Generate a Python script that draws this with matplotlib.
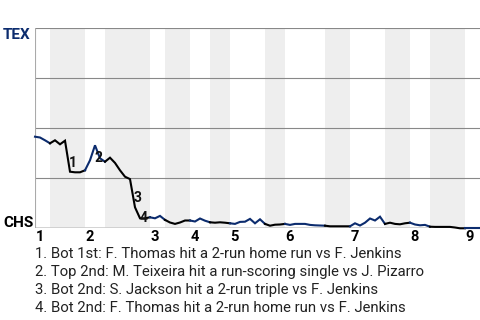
import matplotlib
matplotlib.use("Agg")
import matplotlib.pyplot as plt

plt.rcParams['font.family'] = ['Roboto', 'DejaVu Sans']

# Texas win probability after each plate appearance (1 = TEX, 0 = CHS)
wp_tex = [0.458, 0.454, 0.44, 0.425, 0.44, 0.42, 0.438, 0.283, 0.28, 0.28,
          0.29, 0.34, 0.415, 0.35, 0.333, 0.353, 0.327, 0.29, 0.258, 0.246,
          0.105, 0.05, 0.05, 0.055, 0.05, 0.062, 0.042, 0.029, 0.022, 0.029,
          0.039, 0.039, 0.034, 0.049, 0.038, 0.03, 0.028, 0.03, 0.028, 0.025,
          0.022, 0.032, 0.033, 0.047, 0.025, 0.045, 0.022, 0.013, 0.018, 0.019,
          0.022, 0.017, 0.022, 0.022, 0.022, 0.017, 0.015, 0.014, 0.013, 0.01,
          0.01, 0.01, 0.01, 0.01, 0.025, 0.014, 0.028, 0.049, 0.039, 0.058,
          0.022, 0.028, 0.022, 0.02, 0.025, 0.028, 0.019, 0.015, 0.017, 0.008,
          0.007, 0.007, 0.007, 0.007, 0.004, 0.0, 0.0, 0.0, 0.0, 0.0]

# plate appearance index where each half inning starts
inning_starts = [0, 10, 23, 31, 39, 50, 63, 75, 86]
bottom_starts = [3, 14, 26, 35, 46, 58, 70, 79]
inning_labels = ['1', '2', '3', '4', '5', '6', '7', '8', '9']

# key plays
play_num = ['1', '2', '3', '4']
play_x = [7.5, 12.7, 20.5, 21.7]
play_y = [0.328, 0.35, 0.153, 0.053]
play_text = [
    '1. Bot 1st: F. Thomas hit a 2-run home run vs F. Jenkins',
    '2. Top 2nd: M. Teixeira hit a run-scoring single vs J. Pizarro',
    '3. Bot 2nd: S. Jackson hit a 2-run triple vs F. Jenkins',
    '4. Bot 2nd: F. Thomas hit a 2-run home run vs F. Jenkins',
]

navy = '#0c2c6e'
n = len(wp_tex) - 1

fig = plt.figure(figsize=(4.8, 3.2), dpi=100)
ax = fig.add_axes([35 / 480, 1 - 228.3 / 320, 445 / 480, 200 / 320])
ax.set_xlim(0, n)
ax.set_ylim(0, 1)

# shade the bottom halves
for b, t in zip(bottom_starts, inning_starts[1:]):
    ax.axvspan(b, t, color='#eeeeee', lw=0, zorder=0)

for yv in [0.25, 0.5, 0.75, 1.0]:
    ax.axhline(yv, color='#888888', lw=0.8, zorder=1)
ax.axhline(0, color='#cccccc', lw=1.2, zorder=1)
ax.axvline(0, color='#aaaaaa', lw=0.8, zorder=1)

# line: blue while TEX bats, black while CHS bats
halves = sorted(inning_starts + bottom_starts) + [n]
for k in range(len(halves) - 1):
    a, b = halves[k], halves[k + 1]
    xs = list(range(a, b + 1))
    col = navy if k % 2 == 0 else 'black'
    ax.plot(xs, wp_tex[a:b + 1], color=col, lw=1.5, zorder=3,
            solid_joinstyle='miter', clip_on=False)

for lab, x, y in zip(play_num, play_x, play_y):
    ax.text(x, y, lab, ha='center', va='center', fontsize=10,
            fontweight='bold', color='#111111', zorder=4)

for s in ax.spines.values():
    s.set_visible(False)
ax.set_xticks([])
ax.set_yticks([])

# inning labels below the axis
tr = ax.get_xaxis_transform()
for x, lab in zip(inning_starts, inning_labels):
    ax.text(x + 0.1, (228.3 - 241.3) / 200, lab, transform=tr, ha='left',
            va='baseline', fontsize=10.5, fontweight='bold')

fig.text(3 / 480, 1 - 39.3 / 320, 'TEX', color=navy, fontsize=11,
         fontweight='bold', ha='left', va='baseline')
fig.text(3 / 480, 1 - 226.7 / 320, 'CHS', color='black', fontsize=11,
         fontweight='bold', ha='left', va='baseline')

for i, t in enumerate(play_text):
    fig.text(35 / 480, 1 - (258.5 + 17.8 * i) / 320, t, fontsize=10.7,
             color='#222222', ha='left', va='baseline')

fig.savefig('out.png', dpi=100)
